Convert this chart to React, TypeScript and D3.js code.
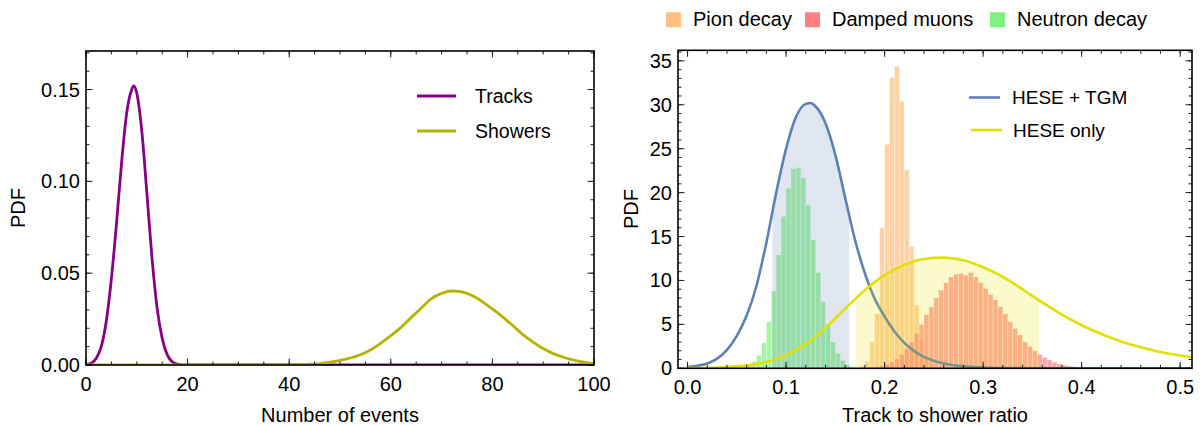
import React from "react";
import * as d3 from "d3";

const W = 1201;
const H = 426;

// left panel: PDFs of the number of events
const trackX = [0, 1, 2, 3, 4, 5, 6, 7, 8, 9, 9.4, 10, 11, 12, 13, 14, 15, 16, 17, 18, 19, 20, 100];
const trackY = [0.0003, 0.001, 0.0035, 0.01, 0.024, 0.047, 0.077, 0.11, 0.137, 0.15, 0.152, 0.148, 0.127,
    0.093, 0.058, 0.031, 0.0145, 0.0055, 0.0017, 0.0005, 0.0001, 0, 0];
const showerX = [0, 40, 42, 44, 46, 48, 50, 52, 54, 56, 58, 60, 62, 64, 66, 68, 70, 72, 74, 76, 78,
    80, 82, 84, 86, 88, 90, 92, 94, 96, 98, 100];
const showerY = [0, 0, 0.0002, 0.0004, 0.0008, 0.0015, 0.0025, 0.0038, 0.0056, 0.0082, 0.0118, 0.016,
    0.0205, 0.0258, 0.031, 0.0362, 0.039, 0.0403, 0.0398, 0.0378, 0.0345, 0.0305, 0.0262, 0.0215,
    0.0165, 0.0125, 0.009, 0.0062, 0.0042, 0.0027, 0.0016, 0.0008];
const leftXTicks = [0, 20, 40, 60, 80, 100];
const leftYTicks = [0, 0.05, 0.1, 0.15];

// right panel: track to shower ratio
const binWidth = 0.005;
const pionStart = 0.17;
const pionHeights = [0.1, 0.3, 0.8, 3.0, 6.2, 16.0, 25.5, 33.1, 34.4, 30.4, 22.6, 13.9, 7.2, 3.2, 1.4, 0.5, 0.15];
const muonStart = 0.175;
const muonHeights = [0.03, 0.05, 0.1, 0.2, 0.3, 0.5, 0.75, 1.1, 1.6, 2.2, 3.0, 4.0, 5.0, 6.1, 7.0, 8.0,
    8.9, 9.75, 10.4, 10.7, 10.8, 10.6, 10.9, 10.4, 9.75, 9.1, 8.4, 7.8, 7.0, 6.2, 5.3, 4.55, 3.8, 3.0,
    2.5, 2.0, 1.6, 1.25, 0.95, 0.7, 0.5, 0.37, 0.27, 0.2, 0.13, 0.08, 0.05];
const neutronStart = 0.055;
const neutronHeights = [0.1, 0.3, 0.8, 1.5, 2.9, 5.3, 8.8, 12.9, 17.3, 20.5, 22.7, 22.85, 21.7, 18.6,
    14.6, 10.9, 7.6, 5.0, 3.0, 1.7, 0.9, 0.4, 0.15, 0.05];

const tgmX = [0, 0.01, 0.02, 0.03, 0.04, 0.05, 0.06, 0.07, 0.08, 0.09, 0.1, 0.11, 0.12, 0.125, 0.13, 0.14,
    0.15, 0.16, 0.17, 0.18, 0.19, 0.2, 0.21, 0.22, 0.23, 0.24, 0.25, 0.26, 0.28, 0.3, 0.33, 0.36, 0.4, 0.45, 0.52];
const tgmY = [0.15, 0.3, 0.55, 1.1, 2.1, 3.7, 6.0, 9.4, 14.3, 20.0, 25.0, 28.6, 30.1, 30.2, 29.8, 27.9,
    24.3, 19.4, 14.6, 10.8, 7.9, 5.9, 4.2, 2.9, 1.95, 1.3, 0.85, 0.55, 0.22, 0.09, 0.03, 0.01, 0.003, 0.001, 0];
const tgmBand = [0.086, 0.164];
const heseX = [0, 0.02, 0.04, 0.06, 0.08, 0.1, 0.12, 0.14, 0.16, 0.18, 0.2, 0.22, 0.24, 0.26, 0.28, 0.3,
    0.32, 0.34, 0.36, 0.38, 0.4, 0.42, 0.44, 0.46, 0.48, 0.5, 0.52];
const heseY = [0.03, 0.06, 0.15, 0.33, 0.72, 1.5, 2.75, 4.6, 6.8, 8.9, 10.6, 11.8, 12.45, 12.6, 12.3,
    11.5, 10.4, 9.0, 7.5, 6.1, 4.9, 3.9, 3.05, 2.4, 1.85, 1.45, 1.15];
const heseBand = [0.171, 0.357];
const rightXTicks = [0, 0.1, 0.2, 0.3, 0.4, 0.5];
const rightYTicks = [0, 5, 10, 15, 20, 25, 30, 35];

const FONT = "'Liberation Sans', Arial, sans-serif";
const PURPLE = "#850085";
const OLIVE = "#b5b200";
const BLUE = "#5e81b5";
const YELLOW = "#e3e000";
const ORANGE = "#ffc080";
const RED = "#ff8080";
const GREEN = "#80f080";

type Scale = d3.ScaleLinear<number, number>;

function Frame(props: {
    x: Scale; y: Scale; xTicks: number[]; yTicks: number[]; xMinor: number[]; yMinor: number[];
    xFmt: (d: number) => string; yFmt: (d: number) => string;
}) {
    const { x, y } = props;
    const [x0, x1] = x.range();
    const [y1, y0] = y.range();
    const xs = (vals: number[], len: number) => vals.filter(v => x(v) >= x0 && x(v) <= x1).map((v, i) => (
        <g key={"x" + len + i}>
            <line x1={x(v)} x2={x(v)} y1={y1} y2={y1 - len} stroke="#222" />
            <line x1={x(v)} x2={x(v)} y1={y0} y2={y0 + len} stroke="#222" />
        </g>
    ));
    const ys = (vals: number[], len: number) => vals.filter(v => y(v) >= y0 && y(v) <= y1).map((v, i) => (
        <g key={"y" + len + i}>
            <line x1={x0} x2={x0 + len} y1={y(v)} y2={y(v)} stroke="#222" />
            <line x1={x1} x2={x1 - len} y1={y(v)} y2={y(v)} stroke="#222" />
        </g>
    ));
    return <g>
        {xs(props.xMinor, 3.5)}
        {xs(props.xTicks, 6.5)}
        {ys(props.yMinor, 3.5)}
        {ys(props.yTicks, 6.5)}
        <rect x={x0} y={y0} width={x1 - x0} height={y1 - y0} fill="none" stroke="#000" strokeWidth={1.6} />
        {props.xTicks.map(v => (
            <text key={"xl" + v} x={x(v)} y={y1 + 26} textAnchor="middle" fontSize={20}>{props.xFmt(v)}</text>
        ))}
        {props.yTicks.map(v => (
            <text key={"yl" + v} x={x0 - 6} y={y(v) + 7} textAnchor="end" fontSize={20}>{props.yFmt(v)}</text>
        ))}
    </g>;
}

function Bars(props: { x: Scale; y: Scale; start: number; heights: number[]; color: string }) {
    const { x, y } = props;
    const w = x(binWidth) - x(0);
    return <g>
        {props.heights.map((h, i) => (
            <rect key={i} x={x(props.start + i * binWidth)} y={y(h)} width={w} height={y(0) - y(h)}
                fill={props.color} fillOpacity={0.7} stroke="#fff" strokeOpacity={0.45} strokeWidth={0.7} />
        ))}
    </g>;
}

export default function App() {
    // left panel
    const lx = d3.scaleLinear().domain([0, 100]).range([86, 594]);
    const ly = d3.scaleLinear().domain([0, 0.171]).range([365, 51]);
    const lline = d3.line<[number, number]>().x(d => lx(d[0])).y(d => ly(d[1])).curve(d3.curveMonotoneX);
    const tracks = trackX.map((v, i) => [v, trackY[i]] as [number, number]);
    const showers = showerX.map((v, i) => [v, showerY[i]] as [number, number]);

    // right panel
    const rx = d3.scaleLinear().domain([-0.0097, 0.512]).range([678, 1192]);
    const ry = d3.scaleLinear().domain([0, 36.2]).range([368.3, 50.3]);
    const rline = d3.line<[number, number]>().x(d => rx(d[0])).y(d => ry(d[1])).curve(d3.curveMonotoneX);
    const rarea = d3.area<[number, number]>().x(d => rx(d[0])).y0(ry(0)).y1(d => ry(d[1])).curve(d3.curveMonotoneX);
    const tgm = tgmX.map((v, i) => [v, tgmY[i]] as [number, number]);
    const hese = heseX.map((v, i) => [v, heseY[i]] as [number, number]);

    const topLegend = [
        { label: "Pion decay", color: ORANGE, x: 666 },
        { label: "Damped muons", color: RED, x: 805 },
        { label: "Neutron decay", color: GREEN, x: 990 },
    ];

    return (
        <div style={{ position: "absolute", left: 0, top: 0 }}>
            <svg width={W} height={H} fontFamily={FONT} style={{ display: "block", background: "#fff" }}>
                <defs>
                    <clipPath id="lclip"><rect x={86} y={51} width={508} height={314} /></clipPath>
                    <clipPath id="rclip"><rect x={678} y={50.3} width={514} height={318} /></clipPath>
                    <clipPath id="tgmband">
                        <rect x={rx(tgmBand[0])} y={0} width={rx(tgmBand[1]) - rx(tgmBand[0])} height={H} />
                    </clipPath>
                    <clipPath id="heseband">
                        <rect x={rx(heseBand[0])} y={0} width={rx(heseBand[1]) - rx(heseBand[0])} height={H} />
                    </clipPath>
                </defs>

                {/* left panel */}
                <g clipPath="url(#lclip)">
                    <path d={lline(tracks) || ""} fill="none" stroke={PURPLE} strokeWidth={2.8} />
                    <path d={lline(showers) || ""} fill="none" stroke={OLIVE} strokeWidth={2.8} />
                </g>
                <Frame x={lx} y={ly} xTicks={leftXTicks} yTicks={leftYTicks}
                    xMinor={d3.range(0, 101, 5)} yMinor={d3.range(0, 0.171, 0.01)}
                    xFmt={d => String(d)} yFmt={d => d3.format(".2f")(d)} />
                <line x1={417} x2={456} y1={96} y2={96} stroke={PURPLE} strokeWidth={2.8} />
                <text x={475} y={103} fontSize={19.5}>Tracks</text>
                <line x1={417} x2={456} y1={131} y2={131} stroke={OLIVE} strokeWidth={2.8} />
                <text x={475} y={138} fontSize={19.5}>Showers</text>
                <text x={340} y={422} textAnchor="middle" fontSize={20}>Number of events</text>
                <text transform="translate(25,208) rotate(-90)" textAnchor="middle" fontSize={20}>PDF</text>

                {/* right panel */}
                <g clipPath="url(#rclip)">
                    <Bars x={rx} y={ry} start={pionStart} heights={pionHeights} color={ORANGE} />
                    <Bars x={rx} y={ry} start={muonStart} heights={muonHeights} color={RED} />
                    <Bars x={rx} y={ry} start={neutronStart} heights={neutronHeights} color={GREEN} />
                    <path d={rarea(tgm) || ""} fill={BLUE} fillOpacity={0.2} clipPath="url(#tgmband)" />
                    <path d={rline(tgm) || ""} fill="none" stroke={BLUE} strokeWidth={2.6} />
                    <path d={rarea(hese) || ""} fill={YELLOW} fillOpacity={0.2} clipPath="url(#heseband)" />
                    <path d={rline(hese) || ""} fill="none" stroke={YELLOW} strokeWidth={2.6} />
                </g>
                <Frame x={rx} y={ry} xTicks={rightXTicks} yTicks={rightYTicks}
                    xMinor={d3.range(0, 0.52, 0.02)} yMinor={d3.range(0, 37, 1)}
                    xFmt={d => d3.format(".1f")(d)} yFmt={d => String(d)} />
                <line x1={969} x2={1000} y1={97.5} y2={97.5} stroke={BLUE} strokeWidth={2.6} />
                <text x={1012} y={104} fontSize={19}>HESE + TGM</text>
                <line x1={971} x2={1002} y1={130} y2={130} stroke={YELLOW} strokeWidth={2.6} />
                <text x={1013} y={137} fontSize={19}>HESE only</text>
                <text x={935} y={422} textAnchor="middle" fontSize={20}>Track to shower ratio</text>
                <text transform="translate(638,209) rotate(-90)" textAnchor="middle" fontSize={20}>PDF</text>

                {topLegend.map(l => (
                    <g key={l.label}>
                        <rect x={l.x} y={12.3} width={15} height={15} fill={l.color} />
                        <text x={l.x + 27} y={26} fontSize={20}>{l.label}</text>
                    </g>
                ))}
            </svg>
        </div>
    );
}
